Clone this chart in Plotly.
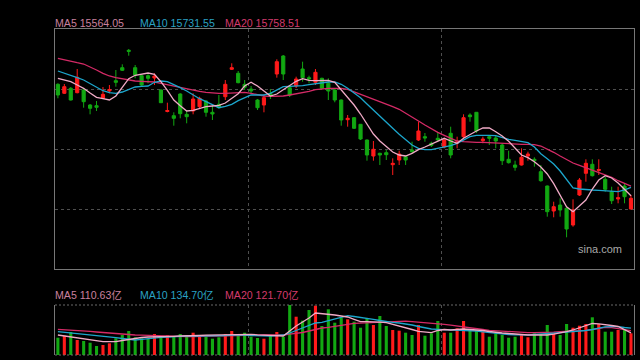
import plotly.graph_objects as go

W, H = 640, 360

# ---- price data (90 sessions) ----
opens = [17794,17614,17714,17626,17680,17380,17366,17514,17660,17866,
         18126,18474,18126,17966,17966,17920,17680,17250,17166,17600,
         17194,17260,17346,17460,17234,17394,17546,18094,18014,17794,
         17700,17480,17380,17614,18000,18360,17726,17760,18100,17926,
         17834,17914,17814,17680,17480,17086,17126,16994,16680,16360,
         16414,16426,16186,16280,16346,16480,16680,16746,16614,16714,
         16540,16814,16614,16746,17180,17234,16666,16746,16720,16580,
         16294,16180,16180,16360,16294,16046,15760,15260,15380,15314,
         14980,15580,16014,16194,16070,15894,15646,15500,15760,15300]
highs = [17814,17800,17740,18100,17714,17400,17460,17740,17780,18080,
         18194,18500,18180,17980,17994,18014,17690,17426,17234,17614,
         17280,17614,17546,17480,17380,17580,17880,18214,18060,17880,
         17760,17500,17594,17700,18294,18380,17780,17946,18246,17966,
         18100,17926,17914,17700,17490,17180,17140,17000,16690,16660,
         16426,16480,16314,16466,16370,16646,17046,16820,16646,16834,
         16714,16946,16746,17194,17214,17240,16746,16770,16780,16614,
         16466,16266,16514,16446,16334,16180,15770,15446,15514,15330,
         15494,15920,16294,16294,16294,15946,15746,15746,15814,15580]
lows = [17514,17600,17470,17614,17326,17194,17260,17500,17614,17746,
        18060,18366,17914,17760,17814,17780,17420,17234,16966,17114,
        17014,17194,17314,17146,17080,17314,17480,18080,17814,17680,
        17614,17280,17234,17500,17926,17880,17540,17720,17846,17814,
        17780,17700,17480,17434,16966,16946,16900,16680,16266,16266,
        16180,16280,15980,16180,16180,16414,16660,16646,16540,16660,
        16514,16314,16514,16720,17046,16820,16614,16580,16514,16180,
        16210,16066,16170,16266,16146,15846,15146,15134,15146,14734,
        14946,15560,15846,15950,15980,15646,15400,15414,15414,15290]
closes = [17580,17746,17480,17934,17446,17314,17334,17594,17690,17834,
          18074,18454,17980,17780,17914,17960,17426,17270,17114,17206,
          17146,17500,17514,17234,17200,17326,17794,18126,17826,17734,
          17660,17326,17526,17566,18246,18000,17580,17900,17926,17900,
          18034,17714,17660,17480,17080,17114,16914,16700,16380,16494,
          16380,16386,16214,16400,16280,16446,16860,16720,16574,16680,
          16680,16380,16646,17126,17146,16860,16700,16714,16660,16266,
          16226,16134,16334,16400,16266,15866,15246,15346,15280,14900,
          15280,15880,16214,15966,16090,15694,15466,15526,15546,15514]

ma5 = [17914,17880,17846,17780,17714,17620,17534,17506,17480,17560,
       17746,17906,17974,18000,18020,17994,17846,17674,17480,17366,
       17260,17274,17306,17346,17360,17374,17420,17514,17606,17760,
       17834,17760,17660,17560,17600,17686,17774,17854,17906,17874,
       17866,17874,17874,17834,17680,17520,17380,17200,17006,16800,
       16660,16546,16440,16380,16360,16414,16486,16540,16594,16660,
       16714,16660,16614,16714,16794,16860,16920,16920,16846,16760,
       16654,16514,16380,16326,16246,16140,16000,15806,15560,15346,
       15246,15360,15480,15700,15880,15966,15920,15820,15694,15564.05]
ma10 = [18060,18020,17980,17926,17880,17806,17734,17666,17626,17614,
        17640,17694,17740,17754,17760,17834,17860,17846,17794,17726,
        17660,17580,17506,17446,17394,17326,17354,17394,17466,17526,
        17580,17580,17580,17614,17680,17746,17754,17754,17766,17786,
        17806,17826,17840,17840,17794,17714,17626,17526,17400,17274,
        17146,17034,16914,16794,16680,16580,16514,16486,16486,16510,
        16530,16566,16614,16680,16746,16774,16780,16774,16766,16726,
        16694,16674,16654,16626,16540,16406,16306,16200,16060,15880,
        15720,15700,15686,15680,15674,15666,15654,15646,15680,15731.55]
ma20 = [18314,18280,18246,18226,18200,18146,18080,18014,17960,17926,
        17900,17874,17860,17854,17846,17840,17814,17786,17760,17726,
        17700,17674,17654,17634,17620,17614,17614,17620,17634,17634,
        17614,17580,17560,17554,17554,17560,17580,17600,17626,17654,
        17686,17706,17714,17714,17714,17694,17646,17600,17546,17494,
        17440,17400,17346,17294,17220,17146,17060,16980,16900,16834,
        16774,16714,16660,16646,16634,16634,16634,16626,16620,16614,
        16606,16600,16594,16594,16586,16560,16500,16434,16360,16294,
        16220,16174,16126,16086,16046,15994,15934,15866,15806,15758.51]

# ---- volume (亿) ----
volume = [86.5,96.5,115,75,70,61.5,45,50,58.5,83.5,
          100,120,88.5,83.5,81.5,105,91.5,98.5,95,105,
          98.5,111.5,98.5,98.5,81.5,88.5,105,120,95,111.5,
          91.5,85,81.5,95,115,91.5,250,191.5,171.5,225,
          246.5,145,228.5,161.5,188.5,178.5,166.5,136.5,183.5,150,
          195,145,125,121.5,111.5,100,150,96.5,108.5,170,
          111.5,111.5,133.5,170,121.5,121.5,116.5,91.5,108.5,100,
          86.5,91.5,100,88.5,108.5,105,150,108.5,100,155,
          136.5,146.5,155,188.5,155,116.5,116.5,125,125,108.5]
vma5 = [100,95,91.5,87.5,83.5,76.5,70,66.5,66.5,66.5,
        72.5,78.5,85,87.5,90,90,91.5,92.5,93.5,95,
        95,96.5,97.5,99,100,101,102.5,104,105,105,
        103.5,101,99,97.5,95,95,120,145,165,185,
        210,207.5,203.5,200,195,190,178.5,166.5,166.5,166.5,
        164,161.5,153.5,146.5,137.5,127.5,118.5,115,111.5,122.5,
        127.5,125,127.5,130,127.5,126,122.5,117.5,112.5,110,
        107.5,104,101,100,100,100,100,104,108.5,116.5,
        125,136.5,147.5,157.5,156,153.5,147.5,142.5,127.5,110.63]
vma10 = [116.5,113.5,111,108,105,101,97.5,94,91.5,86.5,
         82.5,77.5,75,78.5,82.5,85,88.5,90,92.5,94,
         95,95,95,95,95,96,97.5,99,100,99,
         97.5,96.5,95.5,95,97.5,100,110,122.5,132.5,145,
         160,163.5,171.5,180,189,196.5,192.5,188.5,183.5,178.5,
         172.5,167,163.5,160,156.5,150,142.5,136.5,130,128.5,
         127,125,125,125,123.5,120,116,112.5,108,104,
         102.5,101,100,101,102.5,103.5,106.5,109,111.5,113.5,
         116,117.5,122.5,127.5,135,141,141.5,141.5,137.5,134.70]
vma20 = [128.5,127,125,123.5,121.5,118,115,112,108.5,106.5,
         104.5,102.5,100,99,97.5,96,95,94,93.5,92.5,
         91.5,92,93,94,95,96,97,98.5,99.5,100,
         100,100,100,100,100,100,104,107.5,112.5,120,
         127.5,135,138.5,142.5,148.5,153.5,158.5,160,162,163.5,
         165,166.5,168,169.5,169,166.5,164,161.5,160,158,
         153.5,149,144,140,136.5,132,127.5,123.5,121,119,
         116.5,115,113.5,111.5,111.5,111.5,112.5,114,116.5,117.5,
         119,120,123.5,127.5,134,138,137,133,127,121.70]

labels_price = ["MA5 15564.05", "MA10 15731.55", "MA20 15758.51"]
labels_vol = ["MA5 110.63亿", "MA10 134.70亿", "MA20 121.70亿"]

UP, DOWN = "#ff1a1a", "#12a812"
C_MA5, C_MA10, C_MA20 = "#f0aac6", "#1ca6cc", "#d42a66"
L_MA5, L_MA10, L_MA20 = "#c9809e", "#2aa2c4", "#d43a6c"
GRID = "#4e4e4e"
BORDER = "#777777"

n = len(closes)
idx = list(range(n))
bar_colors = [UP if c >= o else DOWN for o, c in zip(opens, closes)]

fig = go.Figure()
fig.add_trace(go.Candlestick(
    x=idx, open=opens, high=highs, low=lows, close=closes,
    increasing=dict(line=dict(color=UP, width=1), fillcolor=UP),
    decreasing=dict(line=dict(color=DOWN, width=1), fillcolor=DOWN),
    whiskerwidth=0, xaxis="x", yaxis="y", showlegend=False, hoverinfo="skip"))
for arr, col in ((ma20, C_MA20), (ma10, C_MA10), (ma5, C_MA5)):
    fig.add_trace(go.Scatter(x=idx, y=arr, mode="lines", line=dict(color=col, width=1.3),
                             xaxis="x", yaxis="y", showlegend=False, hoverinfo="skip"))

fig.add_trace(go.Bar(x=idx, y=volume, marker=dict(color=bar_colors, line=dict(width=0)),
                     xaxis="x2", yaxis="y2", showlegend=False, hoverinfo="skip"))
for arr, col in ((vma20, C_MA20), (vma10, C_MA10), (vma5, C_MA5)):
    fig.add_trace(go.Scatter(x=idx, y=arr, mode="lines", line=dict(color=col, width=1.3),
                             xaxis="x2", yaxis="y2", showlegend=False, hoverinfo="skip"))

# plot frame (pixels -> paper)
left, right = 55 / W, 634 / W
main_dom = [1 - 269 / H, 1 - 29 / H]
vol_dom = [1 - 355 / H, 1 - 305 / H]
xr = [-0.45, n - 1 + 0.47]
yr = [14100, 18900]
vr = [0, 250]
xgrid = [xr[0] + (xr[1] - xr[0]) * k / 3 for k in (1, 2)]
ygrid = [yr[0] + (yr[1] - yr[0]) * k / 4 for k in (1, 2, 3)]

common_x = dict(range=xr, domain=[left, right], showticklabels=False, ticks="",
                tickvals=xgrid, showgrid=True, gridcolor=GRID, griddash="3px,3px",
                gridwidth=1, zeroline=False, fixedrange=True)

fig.update_layout(
    width=W, height=H, margin=dict(l=0, r=0, t=0, b=0),
    paper_bgcolor="#000000", plot_bgcolor="#000000",
    bargap=0.52, boxgap=0.3,
    xaxis=dict(**common_x, anchor="y", showline=True, linecolor=BORDER, mirror=True,
               rangeslider=dict(visible=False)),
    yaxis=dict(domain=main_dom, range=yr, showticklabels=False, ticks="",
               tickvals=ygrid, showgrid=True, gridcolor=GRID, griddash="3px,3px",
               zeroline=False, showline=True, linecolor=BORDER, mirror=True),
    xaxis2=dict(**common_x, anchor="y2", showline=False),
    yaxis2=dict(domain=vol_dom, range=vr, showticklabels=False, ticks="",
                showgrid=False, zeroline=False, showline=True, linecolor=BORDER, mirror=True),
    font=dict(family="Liberation Sans, Arial, Noto Sans CJK SC", size=11),
)

# dotted top/bottom border of the volume panel
for yy in vol_dom:
    fig.add_shape(type="line", xref="paper", yref="paper", x0=left, x1=right, y0=yy, y1=yy,
                  line=dict(color="#6a6a6a", width=1, dash="2px,2px"))

# MA labels
label_x = [53, 138, 223]
for txt, col, px in zip(labels_price, (L_MA5, L_MA10, L_MA20), label_x):
    fig.add_annotation(text=txt, x=px / W, y=1 - 23 / H, xref="paper", yref="paper",
                       xanchor="left", yanchor="middle", showarrow=False,
                       font=dict(color=col, size=10.6))
for txt, col, px in zip(labels_vol, (L_MA5, L_MA10, L_MA20), label_x):
    fig.add_annotation(text=txt, x=px / W, y=1 - 295 / H, xref="paper", yref="paper",
                       xanchor="left", yanchor="middle", showarrow=False,
                       font=dict(color=col, size=10.6))

fig.add_annotation(text="sina.com", x=624 / W, y=1 - 249 / H, xref="paper", yref="paper",
                   xanchor="right", yanchor="middle", showarrow=False,
                   font=dict(color="#a8a8a8", size=11))

fig.write_html("out.html", config={"displayModeBar": False},
               post_script="document.body.style.margin='0px';document.body.style.background='#000';")
